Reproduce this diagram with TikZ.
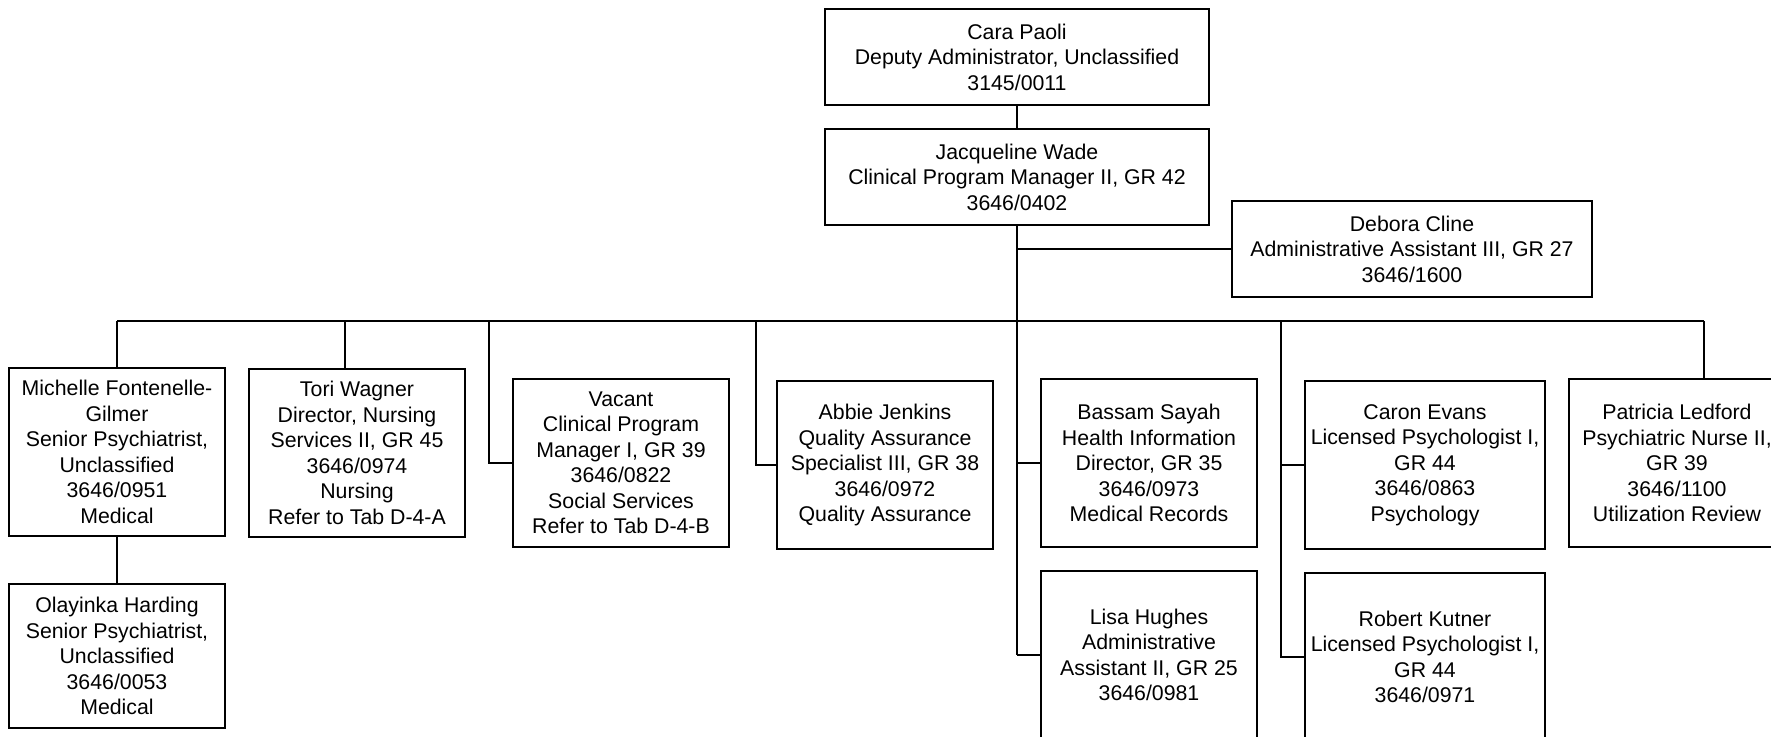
\documentclass[tikz,border=0pt]{standalone}
\usepackage{fontspec}
\setmainfont{Liberation Sans}
\usetikzlibrary{positioning}
\tikzset{
    post/.style={draw, rectangle, line width=1pt, minimum width=108pt, minimum height=84pt, inner sep=0pt, align=center, font=\fontsize{10.65}{12.75}\selectfont},
    head/.style={post, minimum width=192pt, minimum height=48pt},
    wide/.style={post, minimum width=120pt},
    link/.style={line width=1pt}
}
\begin{document}
\begin{tikzpicture}[x=0.5pt, y=-0.5pt]
    \useasboundingbox (0,0) rectangle (1771,737);

    \node[head] (paoli) at (1017,57) {Cara Paoli\\Deputy Administrator, Unclassified\\3145/0011};
    \node[head] (wade) at (1017,177) {Jacqueline Wade\\Clinical Program Manager II, GR 42\\3646/0402};
    \node[head, minimum width=180pt] (cline) at (1412,249) {Debora Cline\\Administrative Assistant III, GR 27\\3646/1600};

    \node[post] (fontenelle) at (117,452) {Michelle Fontenelle-\\Gilmer\\Senior Psychiatrist,\\Unclassified\\3646/0951\\Medical};
    \node[post, minimum height=72pt] (harding) at (117,656) {Olayinka Harding\\Senior Psychiatrist,\\Unclassified\\3646/0053\\Medical};
    \node[post] (wagner) at (357,453) {Tori Wagner\\Director, Nursing\\Services II, GR 45\\3646/0974\\Nursing\\Refer to Tab D-4-A};
    \node[post] (vacant) at (621,463) {Vacant\\Clinical Program\\Manager I, GR 39\\3646/0822\\Social Services\\Refer to Tab D-4-B};
    \node[post] (jenkins) at (885,465) {Abbie Jenkins\\Quality Assurance\\Specialist III, GR 38\\3646/0972\\Quality Assurance};
    \node[post] (sayah) at (1149,463) {Bassam Sayah\\Health Information\\Director, GR 35\\3646/0973\\Medical Records};
    \node[post] (hughes) at (1149,655) {Lisa Hughes\\Administrative\\Assistant II, GR 25\\3646/0981};
    \node[wide] (evans) at (1425,465) {Caron Evans\\Licensed Psychologist I,\\GR 44\\3646/0863\\Psychology};
    \node[wide] (kutner) at (1425,657) {Robert Kutner\\Licensed Psychologist I,\\GR 44\\3646/0971};
    \node[post] (ledford) at (1677,463) {Patricia Ledford\\Psychiatric Nurse II,\\GR 39\\3646/1100\\Utilization Review};

    \coordinate (busL) at (117,321);
    \coordinate (busR) at (1704,321);
    \coordinate (dropT) at (345,321);
    \coordinate (dropV) at (489,321);
    \coordinate (dropA) at (756,321);
    \coordinate (dropC) at (1281,321);

    \draw[link] (paoli) -- (wade);
    \draw[link] (wade.south) -- (wade.south |- hughes.west);
    \draw[link] (wade.south |- cline.west) -- (cline.west);
    \draw[link] (busL) -- (busR);
    \draw[link] (busL) -- (fontenelle.north);
    \draw[link] (fontenelle) -- (harding);
    \draw[link] (dropT) -- (dropT |- wagner.north);
    \draw[link] (dropV) |- (vacant.west);
    \draw[link] (dropA) |- (jenkins.west);
    \draw[link] (wade.south |- sayah.west) -- (sayah.west);
    \draw[link] (wade.south |- hughes.west) -- (hughes.west);
    \draw[link] (dropC) |- (kutner.west);
    \draw[link] (dropC |- evans.west) -- (evans.west);
    \draw[link] (busR) -- (busR |- ledford.north);
\end{tikzpicture}
\end{document}
